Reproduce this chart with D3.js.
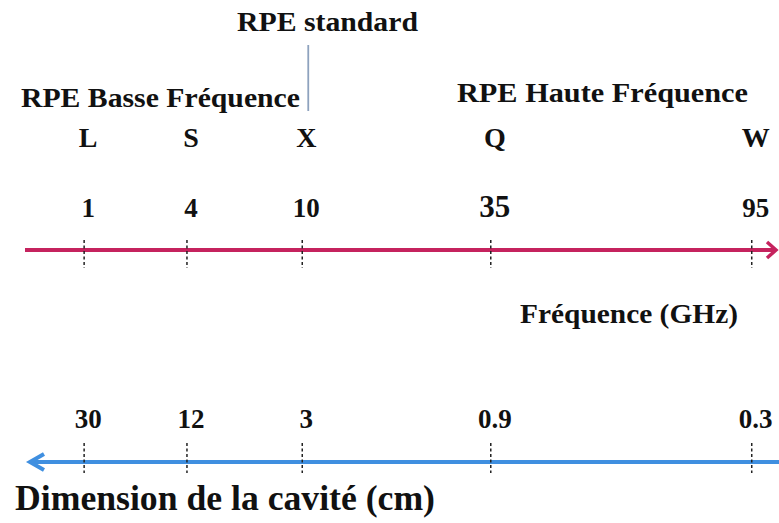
<!DOCTYPE html>
<html>
<head>
<meta charset="utf-8">
<script src="https://cdn.jsdelivr.net/npm/d3@7"></script>
<style>
  html, body { margin: 0; padding: 0; background: #fff; }
  svg { display: block; }
  text { font-family: "Liberation Serif", "Times New Roman", serif; font-weight: bold; fill: #111; }
</style>
</head>
<body>
<svg id="chart" width="779" height="523"></svg>
<script>
// ---- data ----
const bands = ["L", "S", "X", "Q", "W"];
const frequencies = [1, 4, 10, 35, 95];          // GHz
const cavitySizes = ["30", "12", "3", "0.9", "0.3"]; // cm
const groupLabels = ["RPE Basse Fréquence", "RPE standard", "RPE Haute Fréquence"];
const axisTitles = ["Fréquence (GHz)", "Dimension de la cavité (cm)"];

// ---- layout ----
const W = 779, H = 523;
const svg = d3.select("#chart");
// piecewise scale: the bands are not evenly spaced on the original diagram
const tickFrac = [0.108, 0.240, 0.388, 0.630, 0.965];
const x = d3.scaleLinear().domain(frequencies).range(tickFrac.map(f => f * W));

const redY = 250, blueY = 462;
const red = "#c5235e", blue = "#3f8fe0";

function label(xp, yp, size, txt, len) {
  const t = svg.append("text").attr("x", xp).attr("y", yp).attr("font-size", size).text(txt);
  if (len) t.attr("textLength", len).attr("lengthAdjust", "spacingAndGlyphs");
  return t;
}

// group labels
label(21, 107, 28, groupLabels[0], 279);
label(237, 31, 28, groupLabels[1], 181);
label(457, 102, 28, groupLabels[2], 291);
// marker line under "RPE standard"
svg.append("line").attr("x1", x(10) + 6).attr("x2", x(10) + 6).attr("y1", 45).attr("y2", 111)
  .attr("stroke", "#8ea2be").attr("stroke-width", 1.8);

// band letters
svg.selectAll("text.band").data(bands).join("text").attr("class", "band")
  .attr("x", (d, i) => x(frequencies[i]) + 4).attr("y", 147)
  .attr("text-anchor", "middle").attr("font-size", 28).text(d => d);

// frequency values
svg.selectAll("text.freq").data(frequencies).join("text").attr("class", "freq")
  .attr("x", d => x(d) + 4).attr("y", 217)
  .attr("text-anchor", "middle").attr("font-size", d => d === 35 ? 31 : 27).text(d => d);

// red frequency axis with arrow
svg.append("line").attr("x1", 25).attr("x2", W - 4).attr("y1", redY).attr("y2", redY)
  .attr("stroke", red).attr("stroke-width", 4);
svg.append("path").attr("d", `M${W - 12},${redY - 8} L${W - 3},${redY} L${W - 12},${redY + 8}`)
  .attr("fill", "none").attr("stroke", red).attr("stroke-width", 3.5).attr("stroke-linejoin", "miter");

// ticks on red axis
svg.selectAll("line.rtick").data(frequencies).join("line").attr("class", "rtick")
  .attr("x1", d => x(d)).attr("x2", d => x(d)).attr("y1", redY - 10).attr("y2", redY + 18)
  .attr("stroke", "#222").attr("stroke-width", 1.5).attr("stroke-dasharray", "3,2.5");

label(520, 323, 28, axisTitles[0], 218);

// cavity sizes
svg.selectAll("text.size").data(cavitySizes).join("text").attr("class", "size")
  .attr("x", (d, i) => x(frequencies[i]) + 4).attr("y", 428)
  .attr("text-anchor", "middle").attr("font-size", 27).text(d => d);

// blue axis with left arrow
svg.append("line").attr("x1", 30).attr("x2", W).attr("y1", blueY).attr("y2", blueY)
  .attr("stroke", blue).attr("stroke-width", 4);
svg.append("path").attr("d", `M${44},${blueY - 8} L${30},${blueY} L${44},${blueY + 8}`)
  .attr("fill", "none").attr("stroke", blue).attr("stroke-width", 4).attr("stroke-linejoin", "miter");

svg.selectAll("line.btick").data(frequencies).join("line").attr("class", "btick")
  .attr("x1", d => x(d)).attr("x2", d => x(d)).attr("y1", blueY - 19).attr("y2", blueY + 11)
  .attr("stroke", "#222").attr("stroke-width", 1.5).attr("stroke-dasharray", "3,2.5");

label(15, 510, 36, axisTitles[1], 420);
</script>
</body>
</html>
